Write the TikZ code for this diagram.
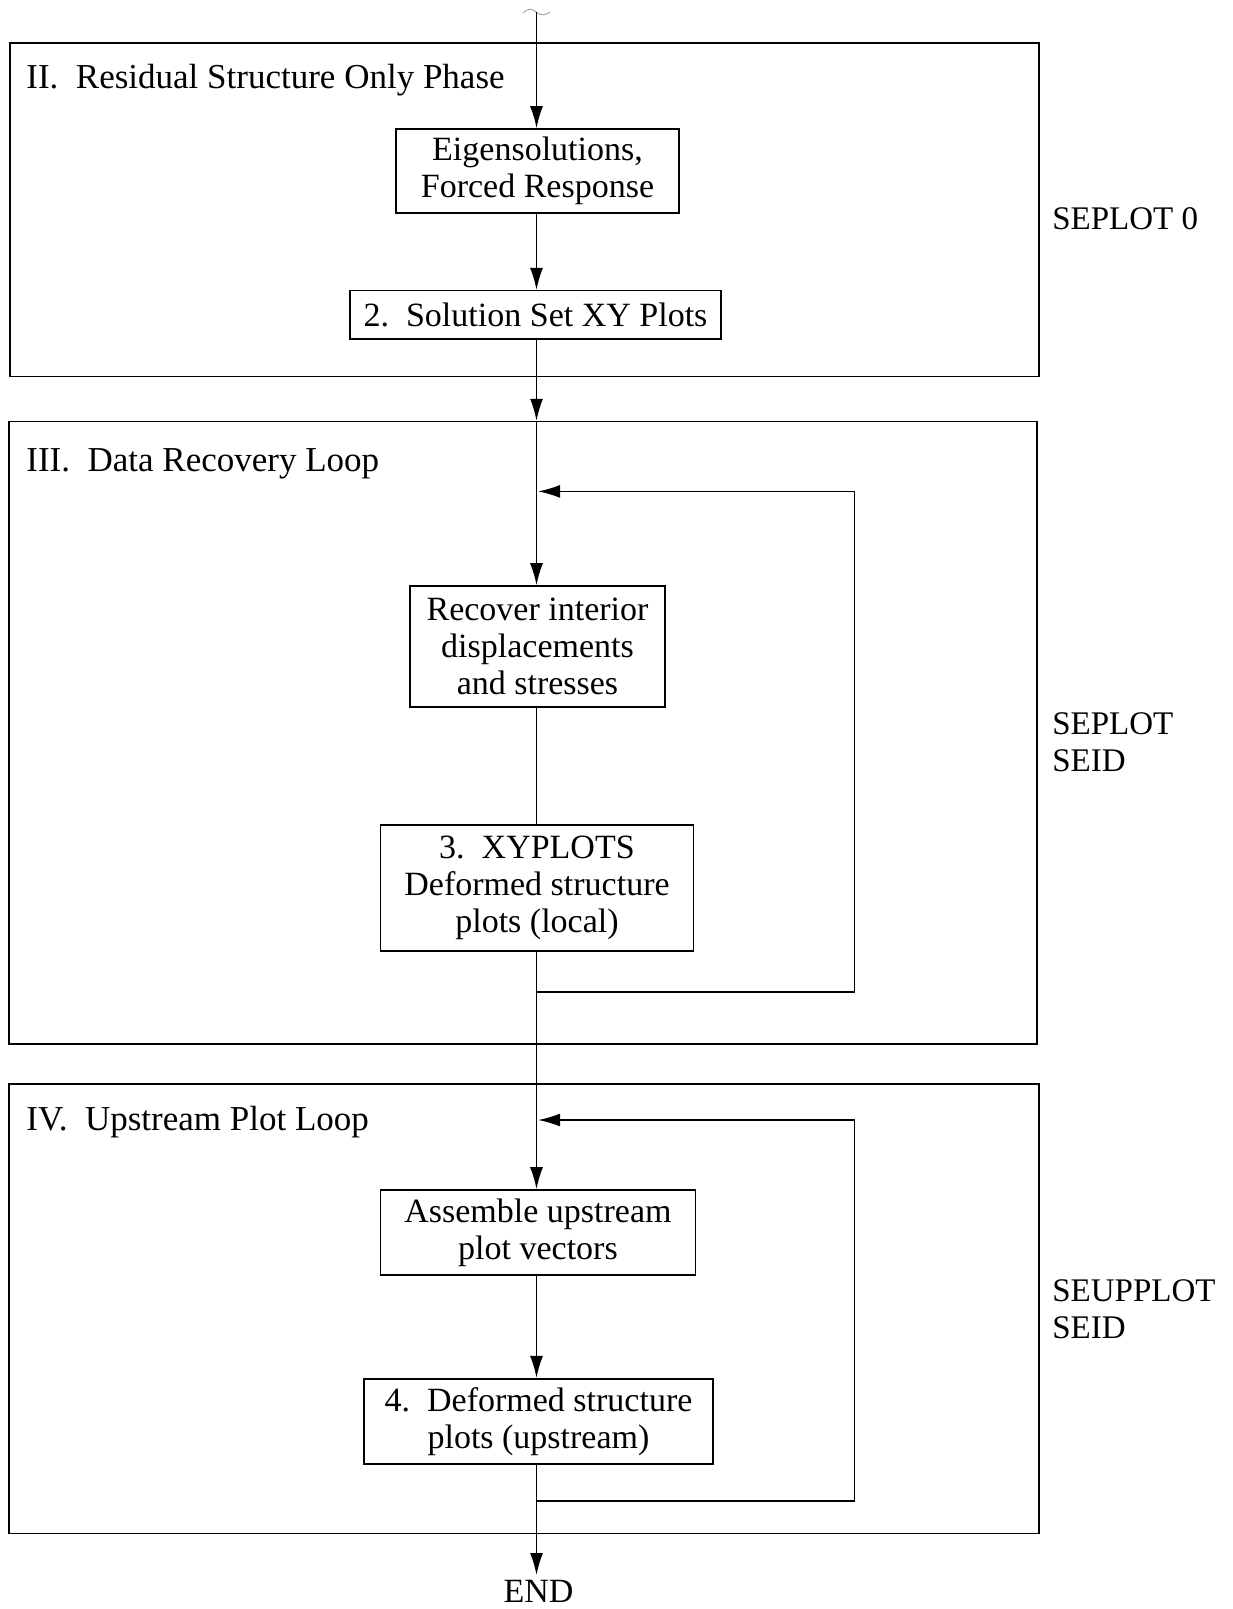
\documentclass[tikz,border=0pt]{standalone}
\usepackage{fontspec}
\setmainfont{Liberation Serif}
\usetikzlibrary{arrows.meta}

\begin{document}
\begin{tikzpicture}[x=0.5pt, y=-0.5pt, line width=0.8pt,
    font=\fontsize{17}{18.5}\selectfont,
    >={Latex[length=11pt,width=6.5pt]}]
\useasboundingbox (0,0) rectangle (1232,1609);

% phase frames
\begin{scope}[every node/.style={draw,rectangle,inner sep=0pt}]
    \node (phase2) at (524.6,209.7) [minimum width=514.4pt, minimum height=166.8pt] {};
    \node (phase3) at (523.1,732.8) [minimum width=513.9pt, minimum height=311.2pt] {};
    \node (phase4) at (524.1,1308.8) [minimum width=514.9pt, minimum height=224.8pt] {};
\end{scope}

% phase titles
\begin{scope}[every node/.style={anchor=base west,inner sep=0pt,font=\fontsize{17.5}{18.5}\selectfont}]
    \node (title2) at (25.6,89) {II.\ \ Residual Structure Only Phase};
    \node (title3) at (25.6,471) {III.\ \ Data Recovery Loop};
    \node (title4) at (25.6,1130) {IV.\ \ Upstream Plot Loop};
\end{scope}

% steps
\begin{scope}[every node/.style={draw,rectangle,align=center,inner sep=0pt}]
    \node (eigen) at (537.5,171) [minimum width=141.5pt, minimum height=42pt] {Eigensolutions,\\Forced Response};
    \node (solset) at (535.5,315) [minimum width=185.5pt, minimum height=24.3pt] {2.\ \ Solution Set XY Plots};
    \node (recover) at (537.5,646.5) [minimum width=127.5pt, minimum height=60.5pt] {Recover interior\\displacements\\and stresses};
    \node (xyplots) at (537,888) [minimum width=156.4pt, minimum height=63pt] {3.\ \ XYPLOTS\\Deformed structure\\plots (local)};
    \node (assemble) at (538,1232.5) [minimum width=157.5pt, minimum height=42.5pt] {Assemble upstream\\plot vectors};
    \node (deformed) at (538.5,1421.3) [minimum width=174.5pt, minimum height=42.6pt] {4.\ \ Deformed structure\\plots (upstream)};
\end{scope}
\node (end) at (538.5,1591) [inner sep=2pt] {END};

% case control settings
\begin{scope}[every node/.style={anchor=west,align=left,inner sep=0pt,font=\fontsize{16.5}{18.5}\selectfont}]
    \node (sep0) at (1051.5,219) {SEPLOT 0};
    \node (sepseid) at (1051.5,742) {SEPLOT\\SEID};
    \node (supseid) at (1051.5,1309) {SEUPPLOT\\SEID};
\end{scope}

% spine
\coordinate (top) at (536.5,12.5);
\draw[gray!70, line width=0.5pt] (top) ++(-13.5,0.3) sin ++(7,-3.6) cos ++(6.5,3.3) sin ++(6.5,2.3) cos ++(7,-2.5);
\draw[->] (top) -- (top |- eigen.north);
\draw[->] (top |- eigen.south) -- (top |- solset.north);
\draw[->] (top |- solset.south) -- (top |- phase3.north);
\draw[->] (top |- phase3.north) -- (top |- recover.north);
\draw (top |- recover.south) -- (top |- xyplots.north);
\draw (top |- xyplots.south) -- (top |- phase4.north);
\draw[->] (top |- phase4.north) -- (top |- assemble.north);
\draw[->] (top |- assemble.south) -- (top |- deformed.north);
\draw[->] (top |- deformed.south) -- (top |- end.north);

% loops back
\coordinate (back3) at (854.5,992);
\coordinate (join3) at (538,491.4);
\coordinate (back4) at (854.5,1501);
\coordinate (join4) at (538,1120);
\draw[->] (top |- back3) -- (back3) -- (back3 |- join3) -- (join3);
\draw[->] (top |- back4) -- (back4) -- (back4 |- join4) -- (join4);
\end{tikzpicture}
\end{document}
